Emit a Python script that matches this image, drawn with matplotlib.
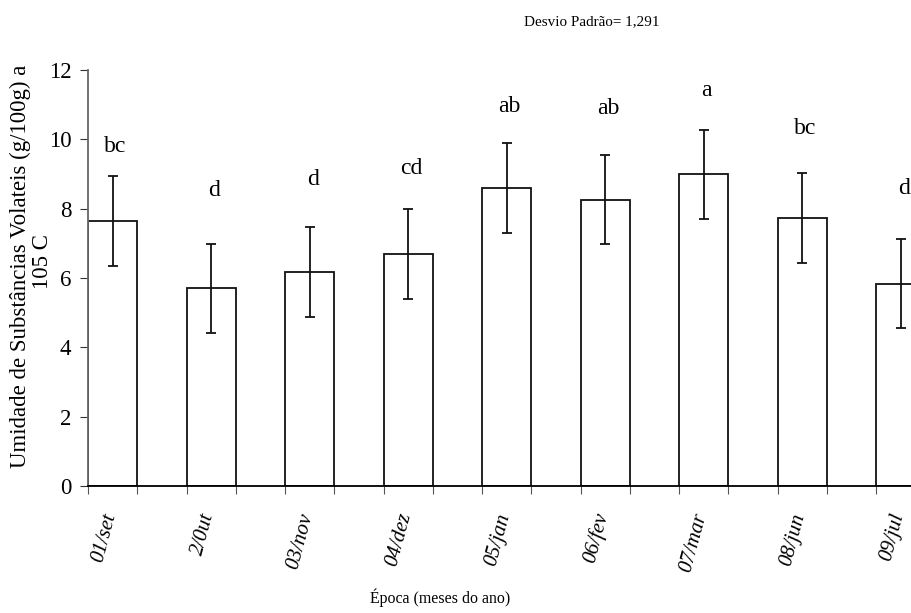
import matplotlib
matplotlib.use("Agg")
import matplotlib.pyplot as plt
import numpy as np

plt.rcParams['font.family'] = ['Liberation Serif', 'DejaVu Serif']

epocas = ["01/set", "2/0ut", "03/nov", "04/dez", "05/jan", "06/fev", "07/mar", "08/jun", "09/jul"]
umidade = [7.65, 5.70, 6.18, 6.69, 8.59, 8.26, 8.99, 7.73, 5.84]
desvio = 1.291
letras = ["bc", "d", "d", "cd", "ab", "ab", "a", "bc", "d"]
letra_y = [9.79, 8.52, 8.83, 9.17, 10.95, 10.90, 11.41, 10.32, 8.59]

fig = plt.figure(figsize=(9.11, 6.13), dpi=100)
ax = fig.add_axes([88 / 911, 127 / 613, 837.25 / 911, 416 / 613])

x = np.arange(len(epocas))
largura = 0.5
ax.bar(x, umidade, width=largura, color="white", edgecolor="#111111", linewidth=1.3,
       yerr=desvio, error_kw=dict(ecolor="#111111", elinewidth=1.3, capsize=3.5, capthick=1.3))

for xi, l, ly in zip(x, letras, letra_y):
    ax.text(xi + 0.03, ly, l, ha="center", va="center", fontsize=17)

ax.set_xlim(-0.25, 8.25)
ax.set_ylim(0, 12)
ax.set_yticks(range(0, 13, 2))
ax.tick_params(axis="y", direction="out", length=6, labelsize=16.5, pad=6, color="#333333")

bordas = np.sort(np.concatenate([x - largura / 2, x + largura / 2]))
ax.set_xticks(bordas)
ax.set_xticklabels([])
ax.tick_params(axis="x", direction="out", length=6, color="#555555")
for xi, rot in zip(x, epocas):
    ax.annotate(rot, xy=(xi, 0), xycoords=("data", "axes fraction"),
                xytext=(5, -18), textcoords="offset points",
                ha="right", va="top", rotation=75, fontsize=15, style="italic")

ax.spines["top"].set_visible(False)
ax.spines["right"].set_visible(False)
ax.spines["left"].set_linewidth(1.3)
ax.spines["left"].set_color("#666666")
ax.spines["bottom"].set_linewidth(1.3)

# titulo do eixo y em duas linhas, como no original
fig.text(20 / 911, 1 - 266 / 613, "Umidade de Substâncias Volateis (g/100g) a",
         rotation=90, ha="center", va="center", fontsize=16.5)
fig.text(43 / 911, 1 - 262 / 613, "105 C",
         rotation=90, ha="center", va="center", fontsize=16.5)
fig.text(440 / 911, 1 - 598 / 613, "Época (meses do ano)", ha="center", va="center", fontsize=11.4)
fig.text(592 / 911, 1 - 22 / 613, "Desvio Padrão= 1,291", ha="center", va="center", fontsize=10.9)

fig.savefig("out.png", dpi=100)
